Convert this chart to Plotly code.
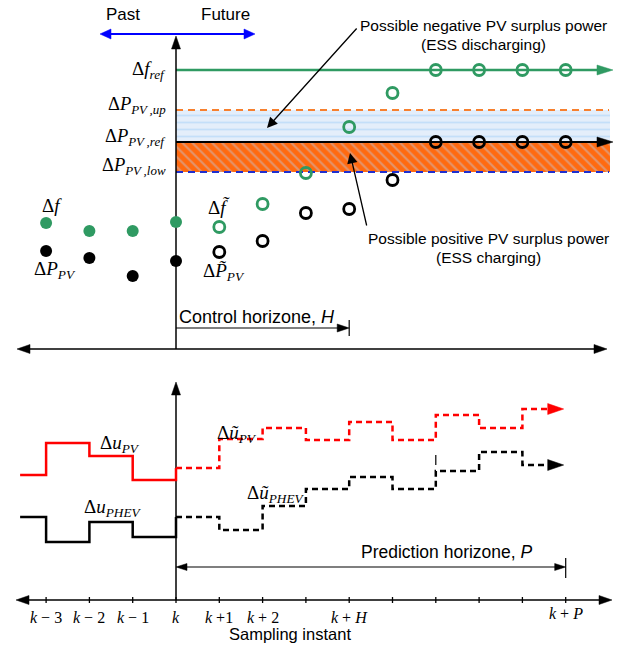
import plotly.graph_objects as go

# ---------------- data (sample index relative to k, arbitrary signal units) ----------------
past_idx = [-3, -2, -1, 0]
pred_idx = [1, 2, 3, 4, 5, 6, 7, 8, 9]
tick_idx = list(range(-3, 10))
tick_labels = ["<i>k</i> − 3", "<i>k</i> − 2", "<i>k</i> − 1", "<i>k</i>", "<i>k</i> +1", "<i>k</i> + 2",
               "", "<i>k</i> + <i>H</i>", "", "", "", "", "<i>k</i> + <i>P</i>"]
H_ctrl = 4
P_pred = 9

f_past = [43.1, 42.3, 42.3, 43.2]
p_past = [40.3, 39.6, 37.8, 39.3]
f_pred = [42.7, 45.0, 48.1, 52.7, 56.1, 58.4, 58.4, 58.4, 58.4]
p_pred = [40.2, 41.3, 44.1, 44.5, 47.4, 51.2, 51.2, 51.2, 51.2]

f_ref = 58.4
p_up = 54.4
p_ref = 51.2
p_low = 48.2

u_past_x = [-3.6, -3, -2, -1, 0]
u_pv_past = [17.9, 21.1, 19.8, 17.4, 18.6]
u_phev_past = [13.7, 11.2, 13.2, 11.7, 13.7]
u_pred_x = [0, 1, 2, 3, 4, 5, 6, 7, 8]
u_pv_pred = [18.6, 21.5, 22.6, 21.4, 23.2, 21.4, 23.9, 22.6, 24.5]
u_phev_pred = [13.7, 12.4, 14.8, 16.5, 17.7, 16.5, 18.3, 20.2, 18.9]

# ---------------- layout helpers (pixel positions -> axis units) ----------------
WIDTH, HEIGHT = 624, 654
STEP_PX, K_PX = 43.3, 176


def X(px):
    return (px - K_PX) / STEP_PX


def Y(py):
    return (HEIGHT - py) / 10.0


GREEN = "#2f9a62"
ORANGE = "#f7802e"
BLUE_D = "#1f2fcf"
RED = "#ff0000"
SERIF = "Liberation Serif"
SANS = "Liberation Sans"
TS = "\u2009"

fig = go.Figure()
shapes = []
ann = []


def line(x0, y0, x1, y1, color="black", width=1.5, dash=None):
    fig.add_trace(go.Scatter(x=[x0, x1], y=[y0, y1], mode="lines",
                             line=dict(color=color, width=width, dash=dash),
                             hoverinfo="skip"))


def head(x, y, d, color="black", L=13, Wd=9):
    if d == "r":
        p = f"M0,0 L{-L},{Wd/2} L{-L},{-Wd/2} Z"
    elif d == "l":
        p = f"M0,0 L{L},{Wd/2} L{L},{-Wd/2} Z"
    else:
        p = f"M0,0 L{Wd/2},{-L} L{-Wd/2},{-L} Z"
    shapes.append(dict(type="path", xref="x", yref="y", xsizemode="pixel", ysizemode="pixel",
                       xanchor=x, yanchor=y, path=p, fillcolor=color,
                       line=dict(color=color, width=0.5), layer="above"))


def txt(px, py, s, size=15, family=SANS, anchor="center", color="black"):
    ann.append(dict(x=X(px), y=Y(py), text=s, showarrow=False, xanchor=anchor, yanchor="middle",
                    font=dict(family=family, size=size, color=color)))


# ---------------- bands ----------------
band_end = X(610)
fig.add_trace(go.Scatter(x=[0, band_end, band_end, 0, 0], y=[p_ref, p_ref, p_up, p_up, p_ref],
                         fill="toself", mode="none", hoverinfo="skip",
                         fillpattern=dict(shape="-", bgcolor="#e4eefa", fgcolor="#a3cff7",
                                          size=7, solidity=0.25)))
fig.add_trace(go.Scatter(x=[0, band_end, band_end, 0, 0], y=[p_low, p_low, p_ref, p_ref, p_low],
                         fill="toself", mode="none", hoverinfo="skip",
                         fillpattern=dict(shape="\\", bgcolor="#ff6a10", fgcolor="#c4c0cc",
                                          size=7, solidity=0.3)))

# reference lines
line(0, p_up, X(609), p_up, ORANGE, 2, "7px,5px")
line(0, p_low, X(609), p_low, BLUE_D, 2, "7px,5px")
line(0, p_ref, X(605), p_ref, "black", 2)
head(X(613), p_ref, "r", "black", 16, 10)
line(0, f_ref, X(605), f_ref, GREEN, 2.5)
head(X(613), f_ref, "r", GREEN, 16, 10)

# ---------------- axes ----------------
# top panel
line(0, Y(349), 0, Y(40))
head(0, Y(36), "u", "black", 13, 9)
line(X(20), Y(349), X(604), Y(349))
head(X(17), Y(349), "l", "black", 13, 9)
head(X(607), Y(349), "r", "black", 13, 9)
# bottom panel
line(0, Y(600), 0, Y(386))
head(0, Y(382), "u", "black", 13, 9)
line(X(20), Y(600), X(608), Y(600))
head(X(16), Y(600), "l", "black", 13, 9)
head(X(612), Y(600), "r", "black", 13, 9)
for i in tick_idx:
    shapes.append(dict(type="line", x0=i, x1=i, y0=Y(603), y1=Y(597),
                       line=dict(color="black", width=1.3), layer="above"))

# Past / Future
line(X(104), Y(34), X(251), Y(34), "#0000ff", 1.8)
head(X(100), Y(34), "l", "#0000ff", 11, 10)
head(X(255), Y(34), "r", "#0000ff", 11, 10)

# control horizon
line(0, Y(328), H_ctrl - 0.05, Y(328), "black", 1.2)
head(H_ctrl, Y(328), "r", "black", 12, 8)
line(H_ctrl, Y(320), H_ctrl, Y(336), "black", 1.2)

# prediction horizon
line(0.05, Y(567), P_pred - 0.05, Y(567), "black", 1.2)
head(0, Y(567), "l", "black", 11, 7)
head(P_pred, Y(567), "r", "black", 11, 7)
line(P_pred, Y(558), P_pred, Y(578), "black", 1.2)

# ---------------- control steps ----------------
end_x = P_pred - 15 / STEP_PX
fig.add_trace(go.Scatter(x=u_past_x, y=u_pv_past, mode="lines", line_shape="hv",
                         line=dict(color=RED, width=2.5), hoverinfo="skip"))
fig.add_trace(go.Scatter(x=u_past_x, y=u_phev_past, mode="lines", line_shape="hv",
                         line=dict(color="black", width=2.5), hoverinfo="skip"))
fig.add_trace(go.Scatter(x=u_pred_x + [end_x], y=u_pv_pred + [u_pv_pred[-1]], mode="lines",
                         line_shape="hv", line=dict(color=RED, width=2.5, dash="6px,4px"),
                         hoverinfo="skip"))
fig.add_trace(go.Scatter(x=u_pred_x + [end_x], y=u_phev_pred + [u_phev_pred[-1]], mode="lines",
                         line_shape="hv", line=dict(color="black", width=2.5, dash="6px,4px"),
                         hoverinfo="skip"))
head(P_pred - 2 / STEP_PX, u_pv_pred[-1], "r", RED, 16, 11)
head(P_pred - 2 / STEP_PX, u_phev_pred[-1], "r", "black", 16, 11)
line(6, Y(455), 6, Y(465), "black", 1.2)

# ---------------- markers ----------------
fig.add_trace(go.Scatter(x=past_idx, y=f_past, mode="markers",
                         marker=dict(color=GREEN, size=12), hoverinfo="skip"))
fig.add_trace(go.Scatter(x=past_idx, y=p_past, mode="markers",
                         marker=dict(color="black", size=12), hoverinfo="skip"))
fig.add_trace(go.Scatter(x=pred_idx, y=f_pred, mode="markers",
                         marker=dict(symbol="circle-open", color=GREEN, size=11,
                                     line=dict(width=2.8, color=GREEN)), hoverinfo="skip"))
fig.add_trace(go.Scatter(x=pred_idx, y=p_pred, mode="markers",
                         marker=dict(symbol="circle-open", color="black", size=11,
                                     line=dict(width=2.8, color="black")), hoverinfo="skip"))

# ---------------- pointer arrows ----------------
ann.append(dict(x=X(267), y=Y(128), ax=X(358), ay=Y(27), axref="x", ayref="y", text="",
                showarrow=True, arrowhead=2, arrowsize=1.6, arrowwidth=1.3, arrowcolor="black"))
ann.append(dict(x=X(350), y=Y(153), ax=X(367), ay=Y(227), axref="x", ayref="y", text="",
                showarrow=True, arrowhead=2, arrowsize=1.6, arrowwidth=1.3, arrowcolor="black"))

# ---------------- texts ----------------
txt(123, 14, "Past", 17)
txt(225, 14, "Future", 17)
txt(483, 25, "Possible negative PV surplus power", 15.5)
txt(483, 44, "(ESS discharging)", 15.5)
txt(488, 238, "Possible positive PV surplus power", 15.5)
txt(488, 257, "(ESS charging)", 15.5)
txt(177, 317, "Control horizone, <i>H</i>", 18, anchor="left")
txt(447, 552, "Prediction horizone, <i>P</i>", 17.5)
txt(290, 634, "Sampling instant", 16.5)

txt(168, 70, "Δ<i>f</i><sub><i>ref</i></sub>", 19, SERIF, "right")
txt(168, 105, f"Δ<i>P</i><sub><i>PV{TS},up</i></sub>", 18.5, SERIF, "right")
txt(168, 137, f"Δ<i>P</i><sub><i>PV{TS},ref</i></sub>", 18.5, SERIF, "right")
txt(168, 166, f"Δ<i>P</i><sub><i>PV{TS},low</i></sub>", 18.5, SERIF, "right")
txt(52, 205, "Δ<i>f</i>", 19, SERIF)
txt(55, 270, "Δ<i>P</i><sub><i>PV</i></sub>", 19, SERIF)
txt(219, 207, "Δ<i>f\u0303</i>", 19, SERIF)
txt(224, 272, "Δ<i>P\u0303</i><sub><i>PV</i></sub>", 19, SERIF)
txt(120, 444, "Δ<i>u</i><sub><i>PV</i></sub>", 19, SERIF)
txt(113, 508, "Δ<i>u</i><sub><i>PHEV</i></sub>", 19, SERIF)
txt(237, 434, "Δ<i>ũ</i><sub><i>PV</i></sub>", 19, SERIF)
txt(276, 494, "Δ<i>ũ</i><sub><i>PHEV</i></sub>", 19, SERIF)

for i, lab in zip(tick_idx, tick_labels):
    if lab:
        yy = 613 if i == P_pred else 617
        ann.append(dict(x=i, y=Y(yy), text=lab, showarrow=False, xanchor="center", yanchor="middle",
                        font=dict(family=SERIF, size=16, color="black")))

fig.update_layout(
    width=WIDTH, height=HEIGHT, margin=dict(l=0, r=0, t=0, b=0),
    plot_bgcolor="white", paper_bgcolor="white", showlegend=False,
    xaxis=dict(visible=False, range=[X(0), X(WIDTH)], fixedrange=True),
    yaxis=dict(visible=False, range=[0, HEIGHT / 10.0], fixedrange=True),
    shapes=shapes, annotations=ann,
)
fig.write_html("out.html")
